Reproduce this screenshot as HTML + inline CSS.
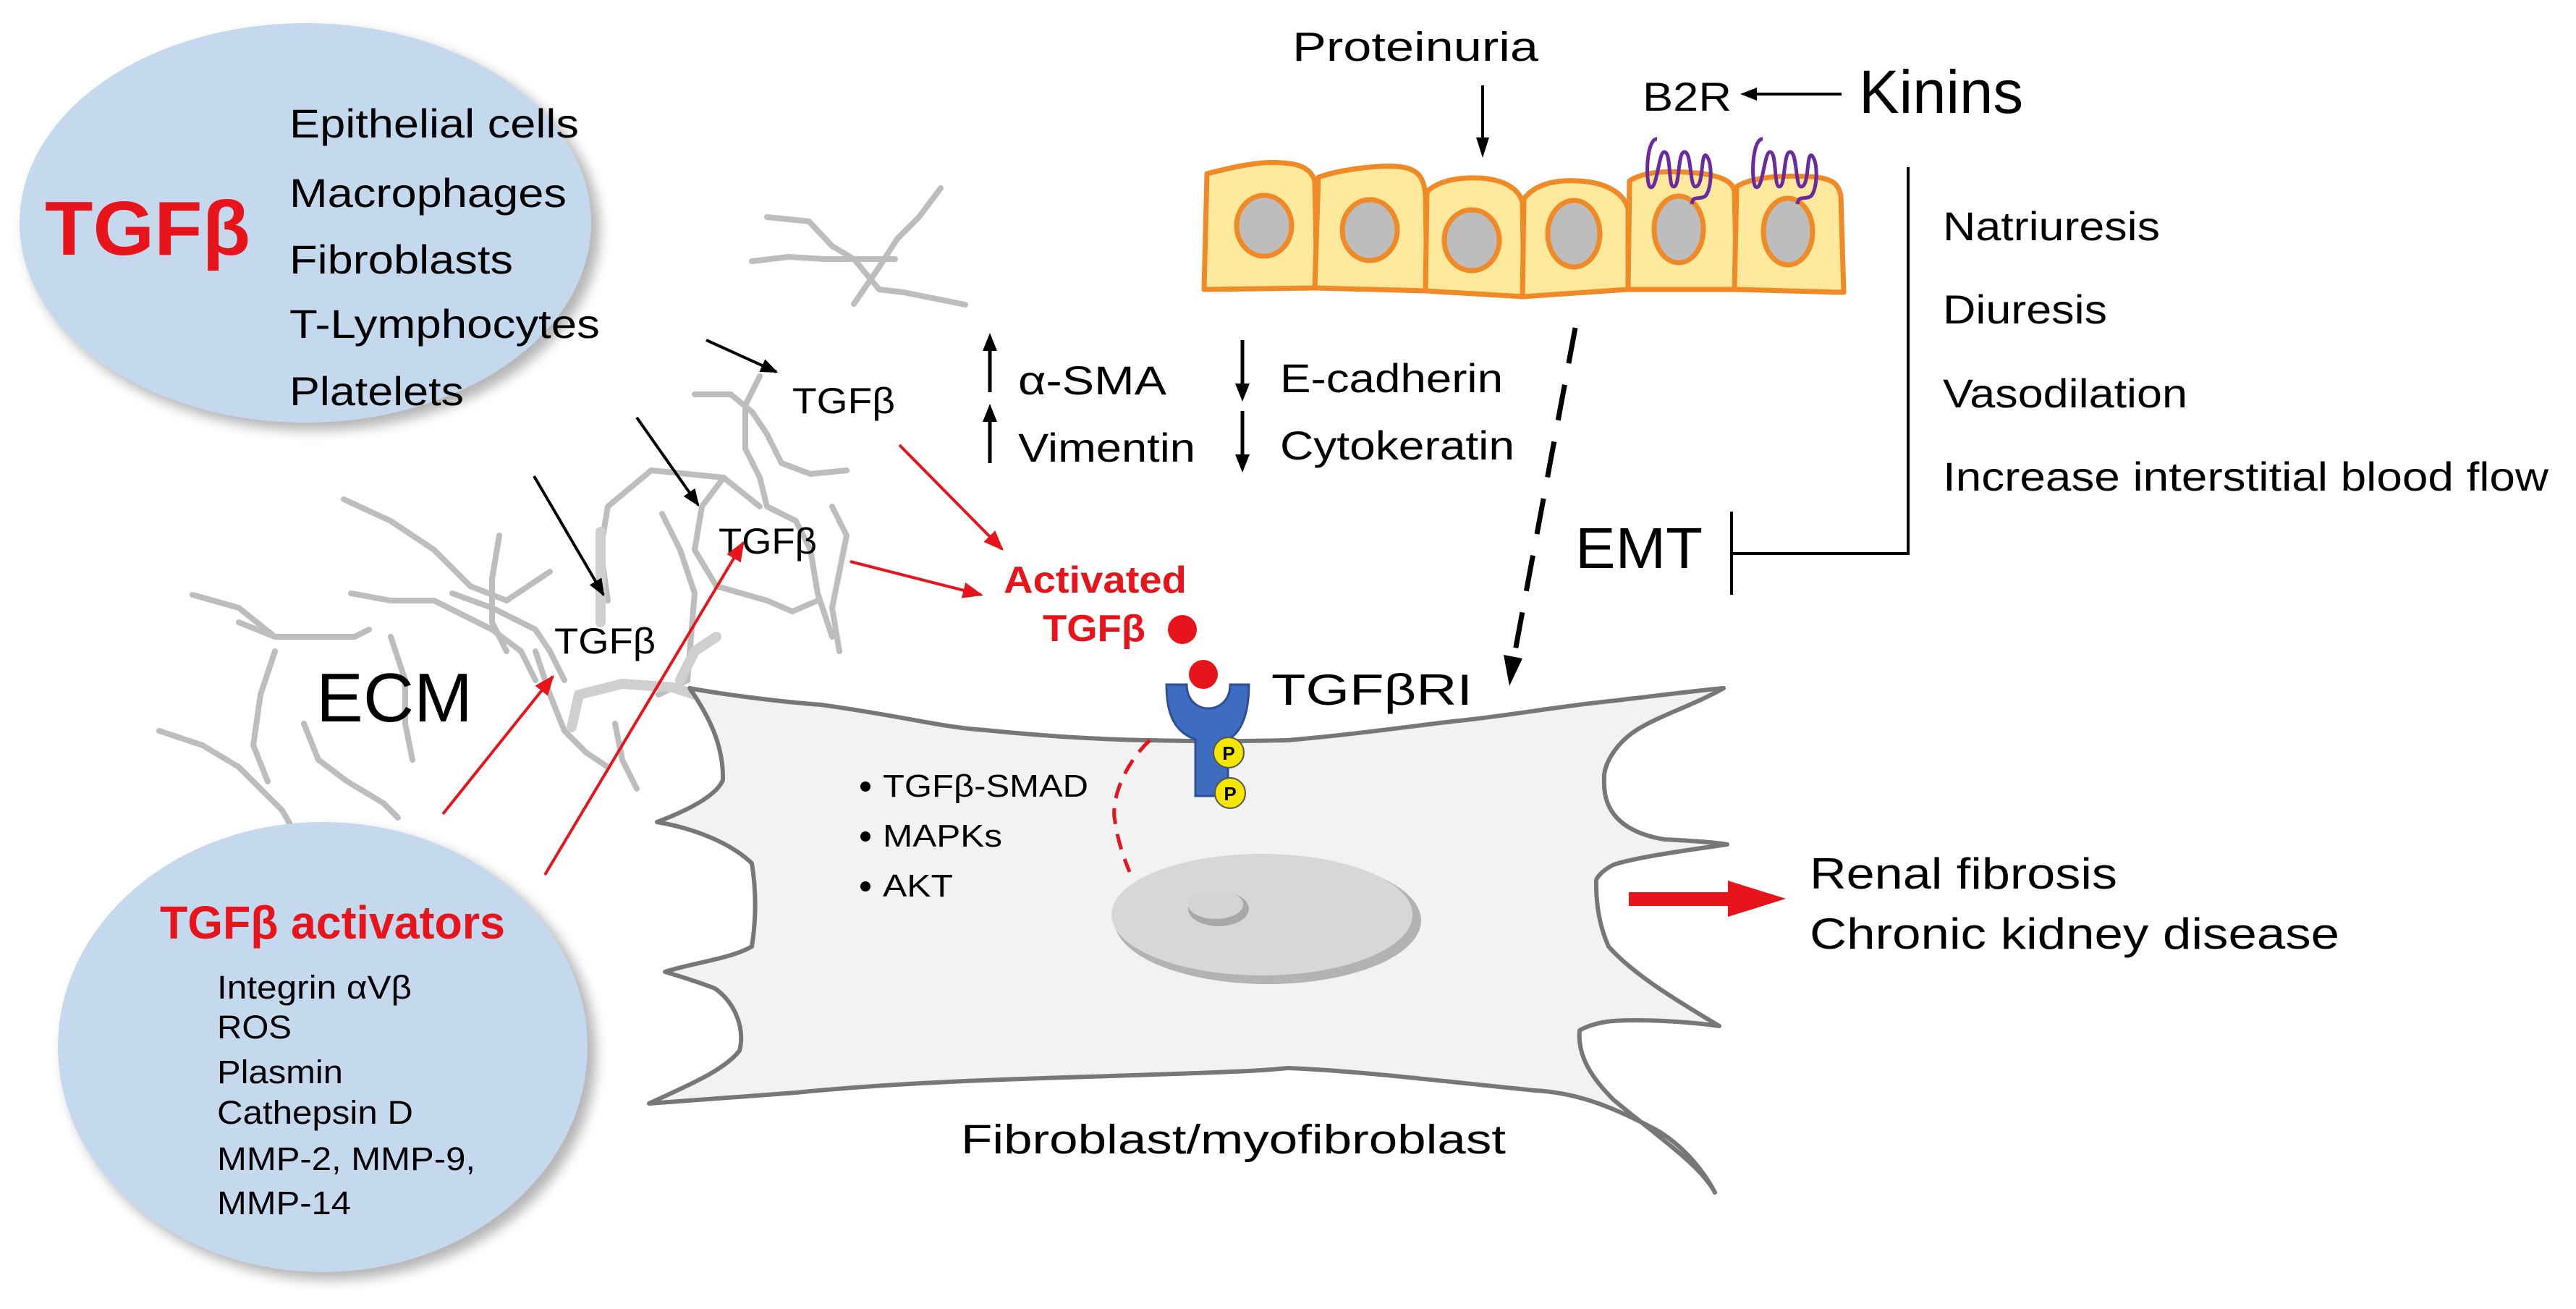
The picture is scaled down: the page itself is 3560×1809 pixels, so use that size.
<!DOCTYPE html>
<html><head><meta charset="utf-8"><style>
html,body{margin:0;padding:0;background:#fff;}
svg{display:block;}
text{font-family:"Liberation Sans",Arial,sans-serif;}
</style></head><body>
<svg width="3560" height="1809" viewBox="0 0 3560 1809" xmlns="http://www.w3.org/2000/svg">
<defs>
<filter id="blur" x="-10%" y="-10%" width="120%" height="120%"><feGaussianBlur stdDeviation="8"/></filter>
<marker id="ab" viewBox="0 0 10 10" refX="9" refY="5" markerWidth="6" markerHeight="6" orient="auto"><path d="M0,1 L10,5 L0,9 Z" fill="#000"/></marker>
<marker id="ar" viewBox="0 0 10 10" refX="9" refY="5" markerWidth="7" markerHeight="7" orient="auto"><path d="M0,1 L10,5 L0,9 Z" fill="#e8141c"/></marker>
</defs>

<!-- ECM fibers -->
<g fill="none" stroke="#bdbdbd" stroke-width="8" stroke-linejoin="round" stroke-linecap="round">
<polyline points="1060,300 1118,306 1150,340 1180,358 1215,400 1249,404 1334,421"/>
<polyline points="1039,361 1090,355 1140,358 1237,358"/>
<polyline points="1300,260 1270,300 1240,330 1215,369 1180,420"/>
<polyline points="960,545 1010,545 1040,570 1060,600 1080,640 1120,655 1170,650"/>
<polyline points="1050,520 1030,560 1030,620 1050,660 1060,700 1100,720 1120,760 1130,820 1150,880"/>
<polyline points="1000,660 970,700 960,760 990,810 1060,830 1095,845 1130,830"/>
<polyline points="915,710 940,760 960,820 955,880 950,940 910,960"/>
<polyline points="1050,700 1000,660 900,650 840,700 830,760 840,830"/>
<polyline points="1150,700 1170,740 1160,790 1150,840 1160,900"/>
<polyline points="475,690 540,720 600,760 650,810 700,830 760,790"/>
<polyline points="690,740 680,800 680,860 700,900"/>
<polyline points="485,820 540,830 600,830 640,850 680,870 720,900 740,940"/>
<polyline points="625,820 680,840 740,870 760,900 780,940"/>
<polyline points="266,822 330,840 380,880 420,880"/>
<polyline points="330,860 380,880 440,880 490,880 510,870"/>
<polyline points="380,900 360,960 350,1030 370,1080"/>
<polyline points="220,1010 280,1030 330,1060 390,1120 430,1190"/>
<polyline points="420,1000 440,1050 480,1080 530,1110 550,1130"/>
<polyline points="540,880 560,940 560,1000 570,1050"/>
<polyline points="740,900 760,960 780,1010 810,1040 840,1060"/>
<polyline points="850,1000 860,1050 880,1090"/>
</g>
<g fill="none" stroke="#cfcfcf" stroke-width="14" stroke-linecap="round" stroke-linejoin="round">
<polyline points="790,1005 800,960 860,945 930,950 960,960"/>
<polyline points="830,735 830,860"/>
<polyline points="940,940 960,900 990,880"/>
</g>

<!-- top ellipse -->
<ellipse cx="432" cy="318" rx="397" ry="277" fill="#7a7a7a" opacity="0.55" filter="url(#blur)"/>
<ellipse cx="422" cy="308" rx="395" ry="276" fill="#c5d9ee"/>
<text x="62" y="352" font-size="106" font-weight="bold" fill="#e8141c" textLength="284" lengthAdjust="spacingAndGlyphs">TGFβ</text>
<g font-size="56" fill="#000">
<text x="400" y="190" textLength="400" lengthAdjust="spacingAndGlyphs">Epithelial cells</text>
<text x="400" y="286" textLength="383" lengthAdjust="spacingAndGlyphs">Macrophages</text>
<text x="400" y="378" textLength="309" lengthAdjust="spacingAndGlyphs">Fibroblasts</text>
<text x="400" y="467" textLength="429" lengthAdjust="spacingAndGlyphs">T-Lymphocytes</text>
<text x="400" y="560" textLength="241" lengthAdjust="spacingAndGlyphs">Platelets</text>
</g>

<!-- bottom ellipse -->
<ellipse cx="456" cy="1457" rx="368" ry="312" fill="#7a7a7a" opacity="0.55" filter="url(#blur)"/>
<ellipse cx="446" cy="1447" rx="366" ry="311" fill="#c5d9ee"/>
<text x="221" y="1297" font-size="64" font-weight="bold" fill="#e8141c" textLength="477" lengthAdjust="spacingAndGlyphs">TGFβ activators</text>
<g font-size="45" fill="#000">
<text x="300" y="1380" textLength="269" lengthAdjust="spacingAndGlyphs">Integrin αVβ</text>
<text x="300" y="1435" textLength="103" lengthAdjust="spacingAndGlyphs">ROS</text>
<text x="300" y="1497" textLength="174" lengthAdjust="spacingAndGlyphs">Plasmin</text>
<text x="300" y="1553" textLength="271" lengthAdjust="spacingAndGlyphs">Cathepsin D</text>
<text x="300" y="1617" textLength="357" lengthAdjust="spacingAndGlyphs">MMP-2, MMP-9,</text>
<text x="300" y="1678" textLength="185" lengthAdjust="spacingAndGlyphs">MMP-14</text>
</g>

<!-- fibroblast cell -->
<path d="M953,951 C1000,960 1080,970 1135,974 C1250,990 1300,1005 1362,1009 C1450,1018 1520,1022 1589,1023 C1680,1025 1730,1024 1780,1023 C1870,1015 1940,1005 2007,997 C2080,990 2160,975 2234,968 C2300,960 2340,955 2382,951 C2340,975 2290,990 2260,1010 C2230,1030 2215,1060 2217,1078 C2215,1120 2240,1150 2300,1160 C2340,1162 2370,1164 2387,1167 C2330,1175 2260,1185 2230,1195 C2210,1205 2206,1216 2206,1216 C2205,1260 2215,1290 2223,1308 C2260,1350 2330,1390 2376,1418 C2320,1410 2250,1408 2220,1412 C2195,1416 2183,1424 2183,1424 C2180,1460 2200,1490 2230,1520 C2290,1570 2350,1610 2370,1648 C2350,1610 2320,1580 2290,1562 C2230,1530 2180,1510 2121,1507 C2000,1495 1880,1480 1780,1476 C1760,1478 1730,1480 1703,1481 C1500,1490 1300,1490 1100,1510 C1000,1518 940,1522 897,1525 C950,1500 1000,1480 1022,1452 C1030,1420 1015,1385 988,1366 C960,1355 935,1348 919,1343 C960,1330 1010,1325 1039,1308 C1045,1270 1045,1230 1039,1193 C1010,1165 960,1145 908,1136 C950,1120 990,1100 999,1078 C1000,1030 980,990 953,951 Z" fill="#f2f2f2" stroke="#777" stroke-width="6" stroke-linejoin="round"/>

<!-- nucleus -->
<ellipse cx="1752" cy="1272" rx="212" ry="88" fill="#b3b3b3"/>
<ellipse cx="1744" cy="1264" rx="208" ry="84" fill="#d7d7d7"/>
<ellipse cx="1684" cy="1256" rx="42" ry="24" fill="#a8a8a8"/>
<ellipse cx="1680" cy="1250" rx="38" ry="20" fill="#d4d4d4"/>

<!-- red dashed arc -->
<path d="M1589,1023 C1550,1060 1535,1110 1541,1135 C1545,1165 1555,1190 1561,1205" fill="none" stroke="#e8141c" stroke-width="5" stroke-dasharray="22,14"/>

<!-- bullets -->
<g font-size="44" fill="#000">
<circle cx="1196" cy="1087" r="7" fill="#000"/><text x="1220" y="1101" textLength="284" lengthAdjust="spacingAndGlyphs">TGFβ-SMAD</text>
<circle cx="1196" cy="1156" r="7" fill="#000"/><text x="1220" y="1170" textLength="165" lengthAdjust="spacingAndGlyphs">MAPKs</text>
<circle cx="1196" cy="1225" r="7" fill="#000"/><text x="1220" y="1239" textLength="97" lengthAdjust="spacingAndGlyphs">AKT</text>
</g>

<!-- receptor -->
<path d="M1612,946 L1640,946 C1640,990 1700,990 1700,946 L1726,946 C1726,1010 1700,1020 1697,1022 L1697,1100 L1652,1100 L1652,1022 C1625,1012 1612,990 1612,946 Z" fill="#3d6cc0" stroke="#2d4f93" stroke-width="3"/>
<circle cx="1663" cy="932" r="20" fill="#e8141c"/>
<circle cx="1698" cy="1040" r="21" fill="#f5e600" stroke="#555" stroke-width="2"/>
<text x="1698" y="1050" font-size="26" font-weight="bold" text-anchor="middle">P</text>
<circle cx="1700" cy="1096" r="21" fill="#f5e600" stroke="#555" stroke-width="2"/>
<text x="1700" y="1106" font-size="26" font-weight="bold" text-anchor="middle">P</text>
<text x="1757" y="974" font-size="60" textLength="278" lengthAdjust="spacingAndGlyphs">TGFβRI</text>

<!-- Activated TGFb -->
<text x="1387" y="819" font-size="52" font-weight="bold" fill="#e8141c" textLength="253" lengthAdjust="spacingAndGlyphs">Activated</text>
<text x="1441" y="886" font-size="52" font-weight="bold" fill="#e8141c" textLength="142" lengthAdjust="spacingAndGlyphs">TGFβ</text>
<circle cx="1634" cy="870" r="20" fill="#e8141c"/>

<!-- TGFb labels -->
<g font-size="50" fill="#000">
<text x="1095" y="571" textLength="142" lengthAdjust="spacingAndGlyphs">TGFβ</text>
<text x="993" y="765" textLength="136" lengthAdjust="spacingAndGlyphs">TGFβ</text>
<text x="766" y="903" textLength="140" lengthAdjust="spacingAndGlyphs">TGFβ</text>
</g>
<text x="437" y="997" font-size="96" textLength="216" lengthAdjust="spacingAndGlyphs">ECM</text>

<!-- black arrows -->
<g stroke="#000" stroke-width="4" fill="none">
<line x1="976" y1="470" x2="1073" y2="514" marker-end="url(#ab)"/>
<line x1="880" y1="577" x2="965" y2="698" marker-end="url(#ab)"/>
<line x1="738" y1="658" x2="834" y2="822" marker-end="url(#ab)"/>
</g>
<!-- red arrows -->
<g stroke="#e8141c" stroke-width="4" fill="none">
<line x1="1243" y1="615" x2="1385" y2="759" marker-end="url(#ar)"/>
<line x1="1175" y1="776" x2="1356" y2="822" marker-end="url(#ar)"/>
<line x1="612" y1="1125" x2="764" y2="935" marker-end="url(#ar)"/>
<line x1="753" y1="1209" x2="1027" y2="750" marker-end="url(#ar)"/>
</g>

<!-- up/down arrows -->
<g stroke="#000" stroke-width="5">
<line x1="1368" y1="542" x2="1368" y2="475"/>
<line x1="1368" y1="640" x2="1368" y2="573"/>
<line x1="1717" y1="470" x2="1717" y2="540"/>
<line x1="1717" y1="568" x2="1717" y2="638"/>
</g>
<path d="M1358,485 L1368,460 L1378,485 Z M1358,583 L1368,558 L1378,583 Z M1707,530 L1717,555 L1727,530 Z M1707,628 L1717,653 L1727,628 Z" fill="#000"/>
<g font-size="56" fill="#000">
<text x="1407" y="545" textLength="205" lengthAdjust="spacingAndGlyphs">α-SMA</text>
<text x="1407" y="638" textLength="245" lengthAdjust="spacingAndGlyphs">Vimentin</text>
<text x="1769" y="542" textLength="308" lengthAdjust="spacingAndGlyphs">E-cadherin</text>
<text x="1769" y="635" textLength="324" lengthAdjust="spacingAndGlyphs">Cytokeratin</text>
</g>

<!-- Proteinuria -->
<text x="1786" y="84" font-size="57" textLength="340" lengthAdjust="spacingAndGlyphs">Proteinuria</text>
<line x1="2049" y1="118" x2="2049" y2="195" stroke="#000" stroke-width="4"/>
<path d="M2040,190 L2049,218 L2058,190 Z" fill="#000"/>

<!-- epithelial cells -->
<g stroke="#ef8a26" stroke-width="7" fill="#fde89c" stroke-linejoin="round">
<path d="M1664,400 L1668,240 C1700,232 1740,222 1770,225 C1800,226 1812,235 1817,250 L1820,398 Z"/>
<path d="M1817,398 L1822,245 C1850,235 1900,228 1930,230 C1960,232 1968,245 1970,270 L1972,402 Z"/>
<path d="M1970,402 L1972,265 C1990,248 2020,245 2045,246 C2080,248 2100,262 2104,280 L2106,410 Z"/>
<path d="M2104,410 L2106,275 C2120,255 2150,248 2180,250 C2230,252 2248,275 2250,290 L2250,400 Z"/>
<path d="M2250,400 L2252,250 C2270,238 2300,236 2330,238 C2370,240 2395,248 2397,265 L2400,400 Z"/>
<path d="M2397,400 L2400,258 C2420,245 2460,242 2500,244 C2535,246 2540,255 2544,270 L2548,404 Z"/>
</g>
<g stroke="#ef8a26" stroke-width="7" fill="#bdbdbd">
<ellipse cx="1747" cy="312" rx="38" ry="42"/>
<ellipse cx="1893" cy="318" rx="38" ry="42"/>
<ellipse cx="2034" cy="332" rx="38" ry="42"/>
<ellipse cx="2175" cy="323" rx="36" ry="46"/>
<ellipse cx="2320" cy="317" rx="34" ry="46"/>
<ellipse cx="2471" cy="320" rx="34" ry="46"/>
</g>
<g fill="none" stroke="#6a2aa0" stroke-width="5" stroke-linejoin="round">
<path d="M2290,192 C2275,192 2274,250 2280,258 C2290,266 2292,210 2300,210 C2310,210 2305,258 2313,258 C2322,258 2318,210 2328,210 C2338,210 2335,258 2343,258 C2355,258 2350,210 2358,215 C2368,225 2365,268 2355,272 C2345,276 2340,270 2338,282"/>
<path d="M2436,192 C2421,192 2420,250 2426,258 C2436,266 2438,210 2446,210 C2456,210 2451,258 2459,258 C2468,258 2464,210 2474,210 C2484,210 2481,258 2489,258 C2501,258 2496,210 2504,215 C2514,225 2511,268 2501,272 C2491,276 2486,270 2484,282"/>
</g>
<text x="2270" y="153" font-size="56" textLength="123" lengthAdjust="spacingAndGlyphs">B2R</text>
<line x1="2545" y1="130" x2="2420" y2="130" stroke="#000" stroke-width="4"/>
<path d="M2428,121 L2405,130 L2428,139 Z" fill="#000"/>
<text x="2569" y="156" font-size="84" textLength="227" lengthAdjust="spacingAndGlyphs">Kinins</text>

<!-- bracket / EMT inhibition -->
<polyline points="2637,231 2637,765 2393,765" fill="none" stroke="#000" stroke-width="4"/>
<line x1="2393" y1="707" x2="2393" y2="822" stroke="#000" stroke-width="4"/>
<text x="2177" y="785" font-size="80" textLength="176" lengthAdjust="spacingAndGlyphs">EMT</text>
<g font-size="56" fill="#000">
<text x="2685" y="332" textLength="300" lengthAdjust="spacingAndGlyphs">Natriuresis</text>
<text x="2685" y="447" textLength="227" lengthAdjust="spacingAndGlyphs">Diuresis</text>
<text x="2685" y="563" textLength="338" lengthAdjust="spacingAndGlyphs">Vasodilation</text>
<text x="2685" y="678" textLength="837" lengthAdjust="spacingAndGlyphs">Increase interstitial blood flow</text>
</g>

<!-- dashed arrow -->
<line x1="2177" y1="453" x2="2092" y2="910" stroke="#000" stroke-width="7" stroke-dasharray="50,30"/>
<path d="M2078,905 L2086,948 L2104,910 Z" fill="#000"/>

<!-- result arrow -->
<rect x="2251" y="1233" width="140" height="19" fill="#e8141c"/>
<path d="M2388,1217 L2468,1242 L2388,1267 Z" fill="#e8141c"/>
<g font-size="60" fill="#000">
<text x="2501" y="1228" textLength="425" lengthAdjust="spacingAndGlyphs">Renal fibrosis</text>
<text x="2501" y="1311" textLength="732" lengthAdjust="spacingAndGlyphs">Chronic kidney disease</text>
</g>
<text x="1328" y="1594" font-size="57" textLength="753" lengthAdjust="spacingAndGlyphs">Fibroblast/myofibroblast</text>
</svg>
</body></html>
